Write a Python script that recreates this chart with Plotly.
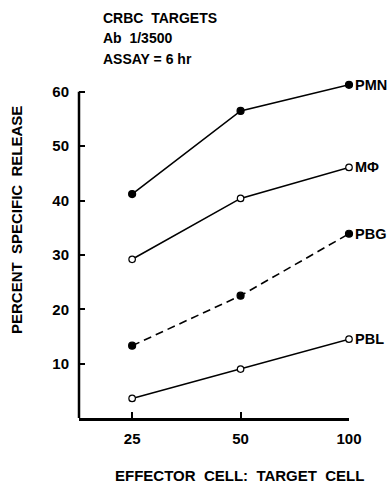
import plotly.graph_objects as go

ratios = ["25", "50", "100"]
xpos = [0, 1, 2]
pmn = [41.2, 56.5, 61.3]
mphi = [29.2, 40.4, 46.1]
pbg = [13.3, 22.5, 33.9]
pbl = [3.6, 9.0, 14.5]
series = [
    ("PMN", pmn, "black", "solid"),
    ("M\u03a6", mphi, "white", "solid"),
    ("PBG", pbg, "black", "dash"),
    ("PBL", pbl, "white", "solid"),
]
yticks = [10, 20, 30, 40, 50, 60]

FONT = "Liberation Sans, Arial, sans-serif"
L, T, B = 79, 81, 65
W, H = 388, 483
PW = 349 - L
PH = H - T - B


def px(xp):
    return (xp - L) / PW


def py(yp):
    return (H - B - yp) / PH


fig = go.Figure()
for name, vals, fill, dash in series:
    fig.add_trace(go.Scatter(
        x=xpos, y=vals, mode="lines+markers", name=name,
        line=dict(color="black", width=1.6, dash="solid" if dash == "solid" else "8px,5px"),
        marker=dict(size=7 if fill == "black" else 6.5, color=fill,
                    line=dict(color="black", width=1.2)),
        cliponaxis=False, showlegend=False))
    fig.add_annotation(x=xpos[-1], y=vals[-1], text="<b>%s</b>" % name,
                       xref="x", yref="y", xanchor="left", yanchor="middle",
                       xshift=4, showarrow=False,
                       font=dict(family=FONT, size=14.5, color="black"))

for t, yc in zip(["CRBC  TARGETS", "Ab  1/3500", "ASSAY = 6 hr"], [17.7, 37.5, 59]):
    fig.add_annotation(x=px(101), y=py(yc), xref="paper", yref="paper",
                       text="<b>%s</b>" % t, showarrow=False, xanchor="left",
                       yanchor="middle", font=dict(family=FONT, size=14, color="black"))

fig.add_annotation(x=px(16), y=py(220), xref="paper", yref="paper", textangle=-90,
                   text="<b>PERCENT  SPECIFIC  RELEASE</b>", showarrow=False,
                   xanchor="center", yanchor="middle",
                   font=dict(family=FONT, size=15, color="black"))
fig.add_annotation(x=px(239.5), y=py(475), xref="paper", yref="paper",
                   text="<b>EFFECTOR  CELL:  TARGET  CELL</b>", showarrow=False,
                   xanchor="center", yanchor="middle",
                   font=dict(family=FONT, size=15, color="black"))

# y axis line only up to 60
fig.add_shape(type="line", xref="paper", yref="y", x0=0, x1=0, y0=0, y1=60,
              line=dict(color="black", width=2.5))

fig.update_layout(
    width=W, height=H,
    margin=dict(l=L, r=W - 349, t=T, b=B),
    paper_bgcolor="white", plot_bgcolor="white",
    font=dict(family=FONT, color="black"),
    xaxis=dict(range=[-0.49, 2.0], tickvals=xpos, ticktext=["<b>%s</b>" % r for r in ratios],
               showgrid=False, zeroline=False, showline=True, linecolor="black", linewidth=2.5,
               ticks="inside", ticklen=6, tickwidth=1.5, tickcolor="black",
               tickfont=dict(family=FONT, size=15), fixedrange=True, ticklabelstandoff=5),
    yaxis=dict(range=[0, 62], tickvals=yticks, ticktext=["<b>%d</b>" % v for v in yticks],
               showgrid=False, zeroline=False, showline=False,
               ticks="inside", ticklen=6, tickwidth=1.5, tickcolor="black",
               tickfont=dict(family=FONT, size=15), fixedrange=True, ticklabelstandoff=9),
)
fig.write_html("out.html")
